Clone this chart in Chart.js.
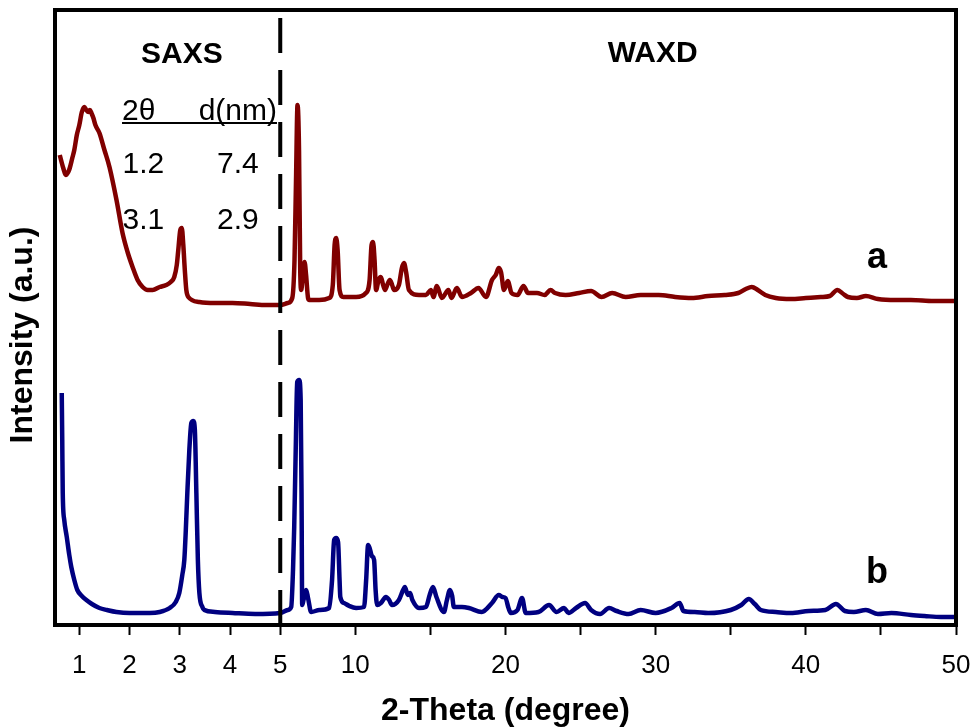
<!DOCTYPE html>
<html lang="en">
<head>
  <meta charset="UTF-8" />
  <title>SAXS / WAXD patterns</title>
  <script src="https://cdn.jsdelivr.net/npm/chart.js@4.4.0/dist/chart.umd.min.js"></script>
  <style>
    body { margin: 0; background: #fff; }
    canvas { display: block; }
  </style>
</head>
<body>
  <canvas id="xrd" width="974" height="727"></canvas>

  <script>
    // curve a : 2-theta (degree) and intensity (a.u.)
    const thetaA = [0.61, 0.68, 0.73, 0.78, 0.81, 0.86, 0.90, 0.95, 1.00, 1.05,
      1.10, 1.14, 1.18, 1.21, 1.24, 1.28, 1.32, 1.40, 1.50, 1.60,
      1.74, 1.86, 1.96, 2.06, 2.16, 2.26, 2.36, 2.46, 2.60, 2.73,
      2.82, 2.89, 2.94, 2.97, 3.01, 3.04, 3.07, 3.10, 3.13, 3.17,
      3.39, 3.70, 4.05, 4.40, 4.72,
      5.0, 5.5, 5.8, 5.95, 6.05, 6.15, 6.25, 6.33, 6.40, 6.50,
      6.62, 6.72, 6.85, 6.93, 7.6, 8.26, 8.50, 8.62, 8.72, 8.82,
      8.95, 9.2, 10.05, 10.7, 10.95, 11.08, 11.18, 11.28, 11.38, 11.55,
      11.7, 11.85, 11.98, 12.15, 12.3, 12.45, 12.58, 12.9, 13.1, 13.24,
      13.38, 13.57, 14.24, 14.7, 15.03, 15.2, 15.43, 15.76, 16.2, 16.4,
      16.76, 17.1, 17.7, 18.2, 18.7, 19.1, 19.35, 19.55, 19.7, 19.9,
      20.15, 20.4, 20.8, 21.2, 21.5, 22.1, 22.6, 23.0, 23.3, 24.0,
      24.9, 25.7, 26.4, 27.1, 28.0, 29.0, 30.2, 31.3, 32.4, 33.5,
      34.6, 35.5, 36.0, 36.4, 36.8, 37.3, 38.0, 39.0, 40.0, 41.0,
      41.6, 42.1, 42.5, 42.8, 43.4, 44.0, 44.8, 46.0, 47.0, 48.5,
      50.0];
    const intensityA = [470, 457, 450, 453, 457, 467, 475, 490, 500, 513,
      518, 515, 513, 515, 512, 507, 500, 492, 475, 458,
      425, 392, 373, 358, 345, 338, 335, 335, 338, 340,
      343, 348, 360, 375, 395, 397, 380, 355, 335, 328,
      323, 322, 322, 321, 320,
      320, 322, 327, 365, 445, 520, 475, 355, 335, 350,
      363, 350, 327, 325, 325, 327, 340, 380, 387, 375,
      335, 328, 328, 332, 345, 380, 383, 365, 335, 345,
      348, 340, 335, 341, 345, 340, 335, 340, 357, 362,
      353, 335, 330, 330, 335, 328, 339, 327, 335, 327,
      337, 328, 332, 337, 328, 345, 350, 357, 353, 335,
      344, 332, 330, 339, 332, 332, 330, 335, 332, 330,
      332, 334, 328, 332, 328, 330, 330, 328, 327, 329,
      330, 332, 336, 338, 335, 330, 327, 326, 327, 328,
      329, 335, 331, 328, 327, 329, 326, 325, 325, 324,
      324];

    // curve b
    const thetaB = [0.65, 0.66, 0.67, 0.70, 0.75, 0.80, 0.84, 0.90, 0.96, 1.05,
      1.14, 1.25, 1.40, 1.55, 1.74, 2.0, 2.4, 2.6, 2.8, 2.92,
      2.99, 3.05, 3.09, 3.12, 3.15, 3.19, 3.23, 3.27, 3.30, 3.33,
      3.36, 3.39, 3.45, 3.49, 3.7, 4.05, 4.5,
      5.0, 5.5, 5.73, 5.85, 5.93, 6.03, 6.13, 6.26, 6.36, 6.42,
      6.46, 6.55, 6.73, 6.85, 7.06, 7.6, 8.26, 8.45, 8.59, 8.72,
      8.85, 8.95, 9.0, 9.25, 9.6, 10.05, 10.58, 10.72, 10.85, 10.95,
      11.1, 11.25, 11.35, 11.45, 11.7, 12.04, 12.25, 12.44, 12.9, 13.18,
      13.3, 13.5, 13.64, 13.8, 14.24, 14.7, 14.95, 15.17, 15.4, 15.9,
      16.1, 16.3, 16.45, 16.56, 17.1, 17.56, 18.42, 19.1, 19.55, 19.8,
      20.0, 20.2, 20.35, 20.8, 21.1, 21.35, 22.2, 22.9, 23.4, 23.9,
      24.2, 24.7, 25.3, 25.7, 26.3, 26.9, 27.4, 28.2, 29.0, 30.0,
      31.05, 31.6, 31.85, 32.6, 33.5, 35.0, 35.7, 36.2, 36.6, 37.0,
      38.0, 39.0, 40.2, 41.3, 42.0, 42.6, 43.2, 44.0, 44.8, 45.7,
      47.0, 47.9, 49.0, 50.0];
    const intensityB = [232, 185, 132, 105, 88, 70, 58, 45, 35, 29,
      25, 21, 17, 15, 13, 12, 12, 13, 17, 23,
      32, 50, 65, 95, 132, 175, 202, 204, 195, 132,
      65, 32, 18, 15, 13, 12, 11,
      12, 15, 18, 55, 98, 175, 243, 245, 225, 125,
      20, 25, 35, 27, 13, 15, 17, 45, 85, 87,
      83, 45, 28, 22, 19, 17, 18, 45, 80, 77,
      69, 65, 35, 20, 22, 28, 25, 20, 25, 35,
      38, 30, 32, 25, 17, 18, 30, 38, 28, 13,
      25, 35, 29, 18, 18, 17, 13, 22, 30, 28,
      27, 17, 12, 15, 27, 12, 13, 20, 13, 17,
      12, 17, 22, 15, 11, 17, 14, 11, 15, 12,
      17, 22, 14, 13, 12, 15, 20, 26, 21, 15,
      13, 12, 14, 15, 21, 14, 13, 15, 11, 12,
      10, 9, 8, 8];

    // x-axis ticks (degrees) and their labels
    const tickDeg = [1, 2, 3, 4, 5, 10, 15, 20, 25, 30, 35, 40, 45, 50];
    const tickText = ['1', '2', '3', '4', '5', '10', '', '20', '', '30', '', '40', '', '50'];

    // inset table
    const tableHead = ['2θ', 'd(nm)'];
    const tableRows = [['1.2', '7.4'], ['3.1', '2.9']];

    const yTitle = 'Intensity (a.u.)';

    const splitAt = 5;          // SAXS | WAXD boundary
    const saxsStretch = 3.345;  // SAXS degrees are drawn wider

    function toAxis(t) {
      return t < splitAt ? splitAt + (t - splitAt) * saxsStretch : t;
    }
    const pts = (xs, ys) => xs.map((t, i) => ({ x: toAxis(t), y: ys[i] }));

    const FONT = '"Liberation Sans", Arial, Helvetica, sans-serif';

    // frame, y title, inset text and curve labels
    const decor = {
      id: 'decor',
      afterDraw(chart) {
        const { ctx, chartArea: area, scales } = chart;
        const px = t => scales.x.getPixelForValue(toAxis(t));
        const py = v => scales.y.getPixelForValue(v);

        ctx.save();
        ctx.strokeStyle = '#000';
        ctx.lineWidth = 4;
        ctx.beginPath();
        ctx.moveTo(area.left - 2, area.top);
        ctx.lineTo(area.right, area.top);
        ctx.lineTo(area.right, area.bottom + 2);
        ctx.stroke();

        ctx.fillStyle = '#000';

        // y axis title, a little below the middle as in the figure
        ctx.save();
        ctx.font = 'bold 32px ' + FONT;
        ctx.textAlign = 'center';
        ctx.textBaseline = 'middle';
        ctx.translate(area.left - 32, py(290));
        ctx.rotate(-Math.PI / 2);
        ctx.fillText(yTitle, 0, 0);
        ctx.restore();

        ctx.textBaseline = 'alphabetic';
        ctx.font = 'bold 30px ' + FONT;
        ctx.textAlign = 'center';
        ctx.fillText('SAXS', px(3.04), py(562));
        ctx.fillText('WAXD', px(29.8), py(563));

        ctx.font = 'bold 36px ' + FONT;
        ctx.fillText('a', px(44.74), py(357));
        ctx.fillText('b', px(44.74), py(42));

        ctx.font = '30px ' + FONT;
        ctx.textAlign = 'left';
        ctx.fillText(tableHead[0], px(1.85), py(505));
        ctx.textAlign = 'right';
        ctx.fillText(tableHead[1], px(4.935), py(505));
        ctx.lineWidth = 2;
        ctx.beginPath();
        ctx.moveTo(px(1.85), py(502));
        ctx.lineTo(px(4.935), py(502));
        ctx.stroke();

        ctx.textAlign = 'left';
        const rowY = [452, 396];
        tableRows.forEach((row, i) => {
          ctx.fillText(row[0], px(1.86), py(rowY[i]));
          ctx.fillText(row[1], px(3.74), py(rowY[i]));
        });
        ctx.restore();
      }
    };

    const chart = new Chart(document.getElementById('xrd'), {
      type: 'line',
      data: {
        datasets: [
          {
            label: 'SAXS/WAXD split',
            data: [{ x: splitAt, y: 607 }, { x: splitAt, y: 0 }],
            borderColor: '#000',
            borderWidth: 4,
            borderDash: [35, 17],
            pointRadius: 0
          },
          {
            label: 'a',
            data: pts(thetaA, intensityA),
            borderColor: '#800000',
            borderWidth: 4.5,
            pointRadius: 0,
            cubicInterpolationMode: 'monotone'
          },
          {
            label: 'b',
            data: pts(thetaB, intensityB),
            borderColor: '#000080',
            borderWidth: 4.5,
            pointRadius: 0,
            cubicInterpolationMode: 'monotone'
          }
        ]
      },
      options: {
        responsive: false,
        animation: false,
        layout: { padding: { top: 10, right: 18, left: 0, bottom: 0 } },
        plugins: {
          legend: { display: false },
          tooltip: { enabled: false }
        },
        scales: {
          x: {
            type: 'linear',
            min: -10,
            max: 50,
            afterBuildTicks: (scale) => {
              scale.ticks = tickDeg.map(t => ({ value: toAxis(t) }));
            },
            afterFit: (scale) => {
              scale.height = 102;
              scale.paddingLeft = 0;
              scale.paddingRight = 0;
            },
            ticks: {
              autoSkip: false,
              maxRotation: 0,
              padding: 15,
              color: '#000',
              font: { family: FONT, size: 26 },
              callback: (value, i) => tickText[i]
            },
            grid: {
              display: true,
              drawOnChartArea: false,
              drawTicks: true,
              tickLength: 10,
              tickWidth: 2,
              color: '#000'
            },
            border: { display: true, color: '#000', width: 4 },
            title: {
              display: true,
              text: '2-Theta (degree)',
              color: '#000',
              font: { family: FONT, size: 32, weight: 'bold', lineHeight: 1 },
              padding: { top: 0, bottom: 0 }
            }
          },
          y: {
            min: 0,
            max: 615,
            afterFit: (scale) => { scale.width = 55; },
            ticks: { display: false },
            grid: { display: false },
            border: { display: true, color: '#000', width: 4 },
            title: { display: false }
          }
        }
      },
      plugins: [decor]
    });
  </script>
</body>
</html>
